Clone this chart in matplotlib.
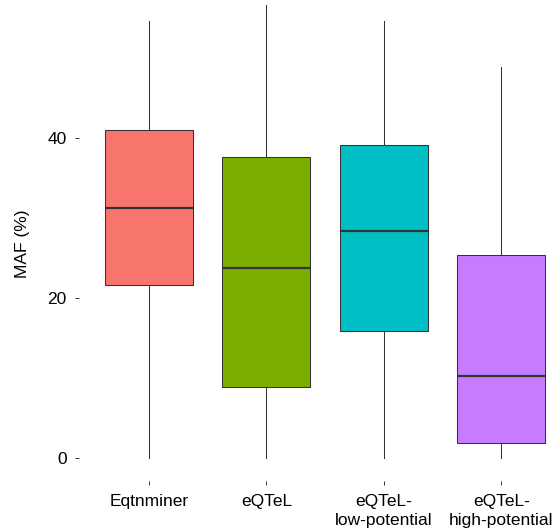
import matplotlib
matplotlib.use("Agg")
import matplotlib.pyplot as plt

plt.rcParams['font.family'] = ['Liberation Sans', 'DejaVu Sans']

# per-method MAF summary (five-number box stats, in %)
methods = ['Eqtnminer', 'eQTeL', 'eQTeL-\nlow-potential', 'eQTeL-\nhigh-potential']
lower = [0.0, 0.0, 0.0, 0.0]
q1 = [21.6, 8.9, 15.9, 1.9]
median = [31.25, 23.75, 28.4, 10.25]
q3 = [41.0, 37.6, 39.1, 25.4]
upper = [54.6, 56.6, 54.6, 48.9]
fills = ['#F8766D', '#7CAE00', '#00BFC4', '#C77CFF']

stats = []
for i in range(len(methods)):
    stats.append(dict(whislo=lower[i], q1=q1[i], med=median[i], q3=q3[i],
                      whishi=upper[i], fliers=[], label=methods[i]))

fig = plt.figure(figsize=(5.6, 5.3), dpi=100)
# panel runs a bit past the right and top edges of the canvas
ax = fig.add_axes([0.1404, 0.0928, 0.8805, 0.9464])

edge = '#333333'
bp = ax.bxp(stats, positions=range(1, len(methods) + 1), widths=0.75,
            patch_artist=True, showcaps=False,
            boxprops=dict(edgecolor=edge, linewidth=0.75),
            whiskerprops=dict(color=edge, linewidth=0.75),
            medianprops=dict(color=edge, linewidth=1.6))
for box, c in zip(bp['boxes'], fills):
    box.set_facecolor(c)

ax.set_xlim(0.4, 4.6)
ax.set_ylim(-2.85, 59.85)
ax.set_yticks([0, 20, 40])
ax.set_xticks(range(1, len(methods) + 1))
ax.set_xticklabels(methods)
for s in ax.spines.values():
    s.set_visible(False)
ax.tick_params(axis='both', length=3.2, width=0.7, color=edge,
               labelsize=12.5, labelcolor='black')
ax.tick_params(axis='y', pad=5.5)
ax.tick_params(axis='x', pad=6.5)
for t in ax.get_xticklabels():
    t.set_linespacing(1.35)

fig.text(0.041, 1 - 244 / 530, 'MAF (%)', rotation=90, ha='center', va='center',
         fontsize=12.5)

fig.savefig('out.png', dpi=100)
